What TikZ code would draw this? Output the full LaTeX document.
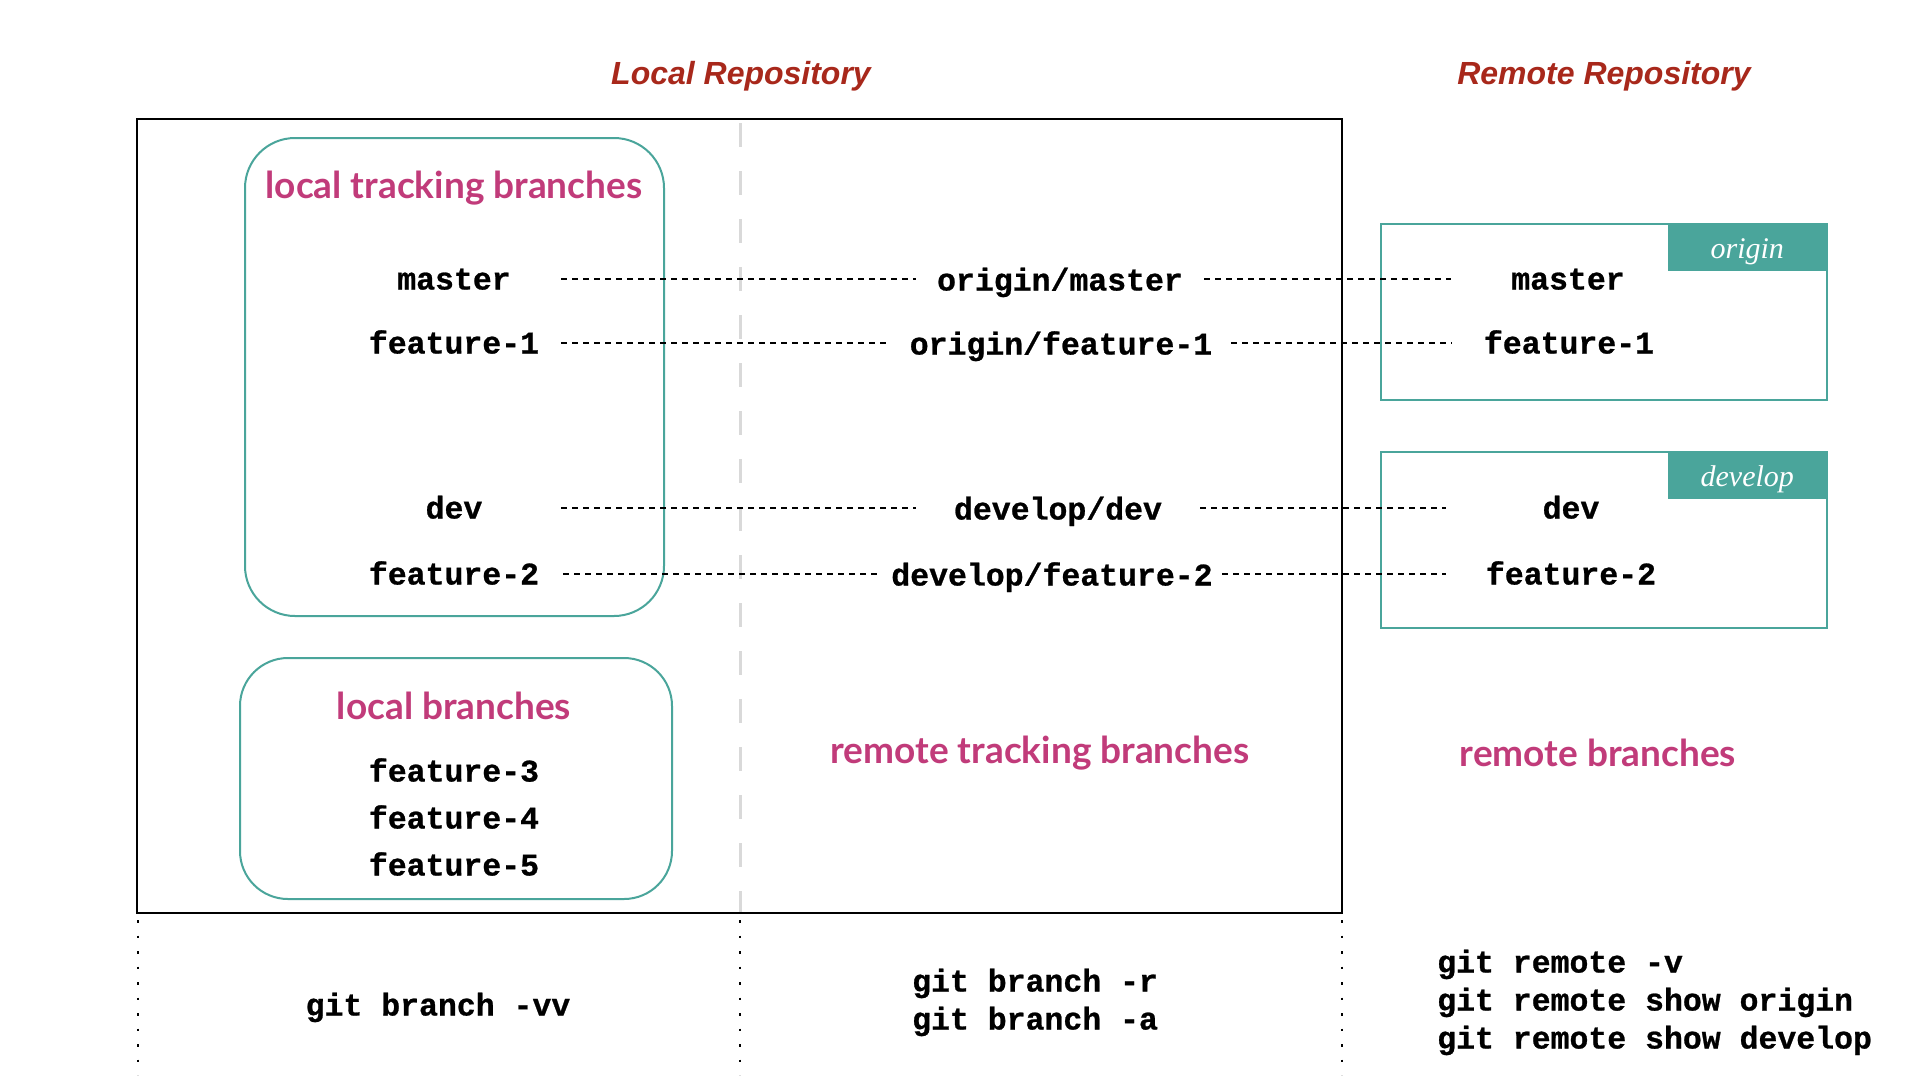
\documentclass[tikz,border=0pt]{standalone}
\usepackage{fontspec}
\setmainfont{Liberation Serif}
\newfontfamily\codefont{Liberation Mono}[BoldFeatures={FakeBold=0.8}]
\newfontfamily\labfont{Lato}
\newfontfamily\titlefont{Liberation Sans}
\newfontfamily\tabfont{Liberation Serif}
\definecolor{tealc}{HTML}{4AA59B}
\definecolor{magc}{HTML}{C13B7A}
\definecolor{redc}{HTML}{A8281B}
\definecolor{grayc}{HTML}{D9D9D9}
\begin{document}
\begin{tikzpicture}[x=1pt,y=-1pt,
  code/.style={font=\codefont\bfseries\fontsize{31.5}{36}\selectfont, inner sep=0pt, text height=15pt, text depth=0pt},
  rowcode/.style={code, text height=21pt},
  midcode/.style={code, text height=23pt},
  lbl/.style={font=\labfont\bfseries\fontsize{37}{44}\selectfont, text=magc, inner sep=0pt},
  reptitle/.style={font=\titlefont\bfseries\itshape\fontsize{32}{38}\selectfont, text=redc, inner sep=0pt},
  link/.style={line width=2.8pt, dash pattern=on 6pt off 5pt},
  tealbox/.style={draw=tealc, line width=2pt},
  tab/.style={fill=tealc, inner sep=0pt, minimum width=159pt, minimum height=47pt, anchor=north east},
  tabtext/.style={text=white, font=\tabfont\itshape\fontsize{30}{36}\selectfont, inner sep=0pt},
  vdot/.style={line width=2.5pt, dash pattern=on 2.5pt off 13pt}
]
\useasboundingbox (0,0) rectangle (1920,1080);
\fill[white] (0,0) rectangle (1920,1080);

% titles
\node[reptitle] (tl) at (741,76) {Local Repository};
\node[reptitle] (tr) at (1604,76) {Remote Repository};

% separator
\draw[grayc, line width=3pt, dash pattern=on 24pt off 24pt] (740,123) -- (740,913);

% main box
\draw[line width=2pt] (137,119) rectangle (1342,913);

% rounded boxes
\draw[tealbox, rounded corners=50pt] (245,138) rectangle (664,616);
\draw[tealbox, rounded corners=48pt] (240,658) rectangle (672,899);

% remote boxes
\draw[tealbox] (1381,224) rectangle (1827,400);
\node[tab] (otab) at (1827,224) {};
\node[tabtext] (otabt) at ([yshift=-4pt]otab.center) {origin};
\draw[tealbox] (1381,452) rectangle (1827,628);
\node[tab] (dtab) at (1827,452) {};
\node[tabtext] (dtabt) at ([yshift=-4pt]dtab.center) {develop};

% labels
\node[lbl] (ltb) at (454,188) {local tracking branches};
\node[lbl] (lb) at (454,706) {local branches};
\node[lbl] (rtb) at (1040,753) {remote tracking branches};
\node[lbl] (rb) at (1598,753) {remote branches};

% left nodes
\node[rowcode, minimum width=214pt] (l1) at (454,279) {master};
\node[rowcode, minimum width=214pt] (l2) at (454,343) {feature-1};
\node[rowcode, minimum width=214pt] (l3) at (454,508) {dev};
\node[rowcode, minimum width=218pt] (l4) at (454,574) {feature-2};

% middle nodes
\node[midcode, minimum width=288pt] (m1) at (1060,279) {origin/master};
\node[midcode, minimum width=340pt] (m2) at (1061,343) {origin/feature-1};
\node[midcode, minimum width=284pt] (m3) at (1058,508) {develop/dev};
\node[midcode, minimum width=340pt] (m4) at (1052,574) {develop/feature-2};

% right nodes
\node[rowcode, minimum width=234pt] (r1) at (1568,279) {master};
\node[rowcode, minimum width=234pt] (r2) at (1569,343) {feature-1};
\node[rowcode, minimum width=250pt] (r3) at (1571,508) {dev};
\node[rowcode, minimum width=250pt] (r4) at (1571,574) {feature-2};

\draw[link] (l1.east) -- (m1.west);
\draw[link] (m1.east) -- (r1.west);
\draw[link] (l2.east) -- (m2.west);
\draw[link] (m2.east) -- (r2.west);
\draw[link] (l3.east) -- (m3.west);
\draw[link] (m3.east) -- (r3.west);
\draw[link] (l4.east) -- (m4.west);
\draw[link] (m4.east) -- (r4.west);

% local branches
\node[code] (f3) at (454,774) {feature-3};
\node[code] (f4) at (454,821) {feature-4};
\node[code] (f5) at (454,868) {feature-5};

% bottom dotted lines
\draw[vdot] (138,920) -- (138,1075);
\draw[vdot] (740,920) -- (740,1075);
\draw[vdot] (1342,920) -- (1342,1075);

% commands
\node[code] (gvv) at (438,1008) {git branch -vv};
\node[code, anchor=west] (gbr) at (912,984) {git branch -r};
\node[code, anchor=west] (gba) at (912,1022) {git branch -a};
\node[code, anchor=west] (grv) at (1437,965) {git remote -v};
\node[code, anchor=west] (gro) at (1437,1003) {git remote show origin};
\node[code, anchor=west] (grd) at (1437,1041) {git remote show develop};
\end{tikzpicture}
\end{document}
